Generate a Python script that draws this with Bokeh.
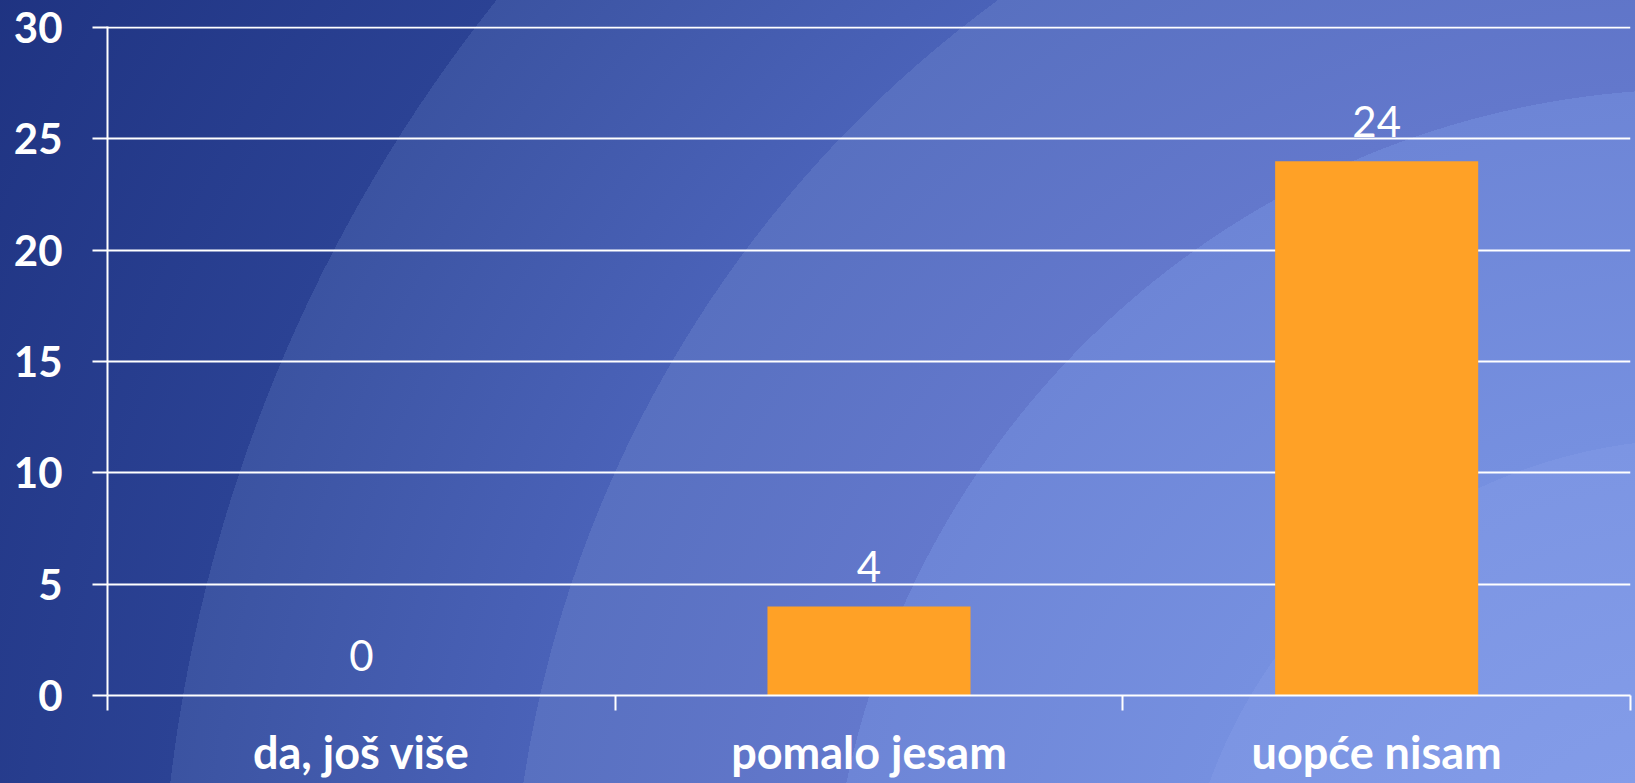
from bokeh.plotting import figure
from bokeh.models import Range1d, FixedTicker, ColumnDataSource, GlobalInlineStyleSheet
from bokeh.core.properties import value
from bokeh.embed import file_html
from bokeh.resources import INLINE

# ---- data ----
categories = ["da, još više", "pomalo jesam", "uopće nisam"]
counts = [0, 4, 24]
y_ticks = [0, 5, 10, 15, 20, 25, 30]

xs = [i + 0.5 for i in range(len(categories))]
boundaries = list(range(len(categories) + 1))
src = ColumnDataSource(dict(x=xs, top=counts, label=[str(c) for c in counts]))

BG_CSS = """
html {
  min-height: 100%;
  background: radial-gradient(circle at 1700px 961px,
     #87A0EC 0px, #7C95E3 522px,
     #7690E0 522px, #6D85D6 872px,
     #6378CC 872px, #5870C0 1190px,
     #4A62B8 1190px, #3B53A1 1540px,
     #2B4294 1540px, #1E3280 1990px) no-repeat;
}
"""

p = figure(width=1635, height=783,
           x_range=Range1d(0, len(categories)), y_range=Range1d(0, 30.05),
           output_backend="svg", toolbar_location=None,
           min_border_left=107, min_border_right=5,
           min_border_top=26, min_border_bottom=88)
p.stylesheets = [GlobalInlineStyleSheet(css=BG_CSS)]
p.border_fill_color = None
p.background_fill_color = None
p.outline_line_color = None

p.vbar(x="x", top="top", width=0.4, bottom=0, source=src,
       fill_color="#FFA126", line_color=None)
p.text(x="x", y="top", text="label", source=src, y_offset=-40,
       text_align="center", text_baseline="alphabetic", text_color="white",
       text_font=value("Lato"), text_font_size="42px")

# grid
p.xgrid.grid_line_color = None
p.ygrid.ticker = FixedTicker(ticks=y_ticks)
p.ygrid.grid_line_color = "white"
p.ygrid.grid_line_width = 2

# y axis
ya = p.yaxis[0]
ya.ticker = FixedTicker(ticks=y_ticks)
ya.axis_line_color = "white"
ya.axis_line_width = 2
ya.major_tick_in = 0
ya.major_tick_out = 15
ya.major_tick_line_color = "white"
ya.major_tick_line_width = 2
ya.minor_tick_line_color = None
ya.major_label_text_color = "white"
ya.major_label_text_font = "Lato"
ya.major_label_text_font_style = "bold"
ya.major_label_text_font_size = "42px"
ya.major_label_standoff = 30

# x axis
xa = p.xaxis[0]
xa.ticker = FixedTicker(ticks=xs, minor_ticks=boundaries)
xa.major_label_overrides = {x: c for x, c in zip(xs, categories)}
xa.axis_line_color = "white"
xa.axis_line_width = 2
xa.major_tick_in = 0
xa.major_tick_out = 0
xa.major_tick_line_color = None
xa.minor_tick_in = 0
xa.minor_tick_out = 15
xa.minor_tick_line_color = "white"
xa.minor_tick_line_width = 2
xa.major_label_text_color = "white"
xa.major_label_text_font = "Lato"
xa.major_label_text_font_style = "bold"
xa.major_label_text_font_size = "45px"
xa.major_label_standoff = 14

open("out.html", "w").write(file_html(p, INLINE))
